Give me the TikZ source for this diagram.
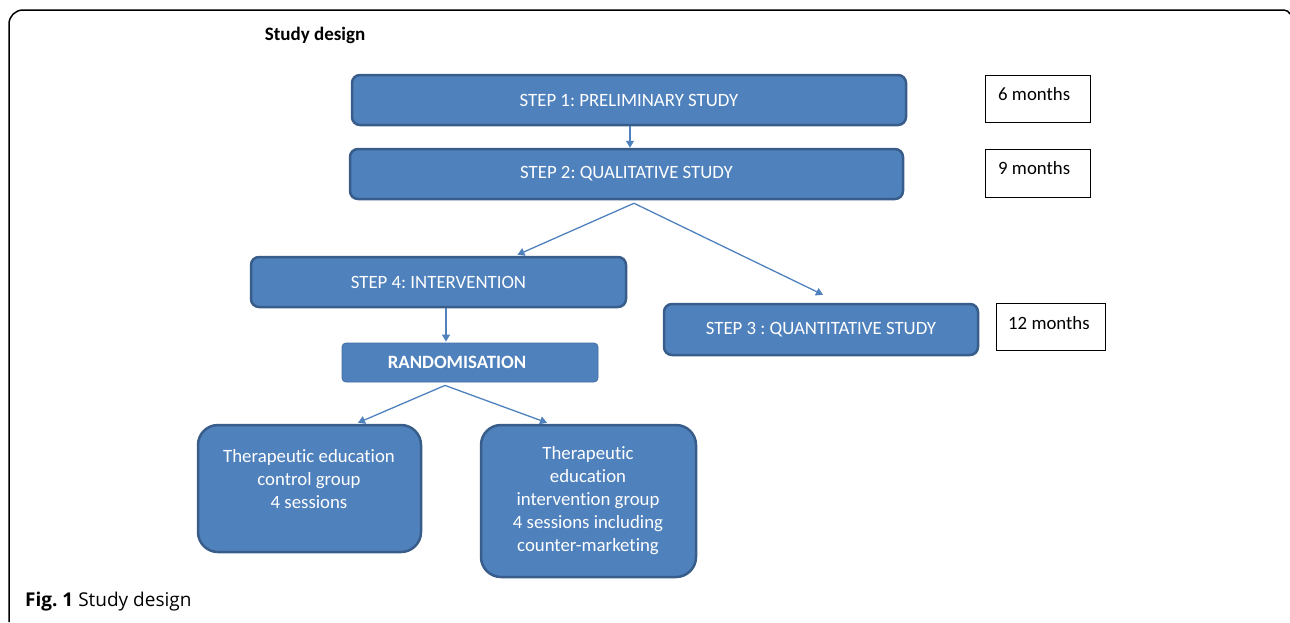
\documentclass[tikz,border=0pt]{standalone}
\usepackage{fontspec}
\setmainfont[Ligatures=NoCommon]{Carlito}
\newfontfamily\capfont{Open Sans}
\usetikzlibrary{arrows.meta}
\frenchspacing
\definecolor{boxfill}{RGB}{79,129,189}
\definecolor{boxedge}{RGB}{56,93,138}
\tikzset{
  bigfont/.style={font=\fontsize{18.8}{23}\selectfont},
  stepbox/.style={draw=boxedge, line width=2.5pt, fill=boxfill, rounded corners=8pt,
    text=white, bigfont, inner sep=0pt},
  randbox/.style={draw=boxfill!85!black, line width=0.8pt, fill=boxfill, rounded corners=4pt,
    inner sep=0pt},
  groupbox/.style={draw=boxedge, line width=2.5pt, fill=boxfill, rounded corners=20pt,
    inner sep=0pt},
  grouptext/.style={text=white, font=\fontsize{18.8}{23}\selectfont, inner sep=0pt, align=center},
  timebox/.style={draw=black, line width=1pt, fill=white, inner sep=0pt},
  timetext/.style={anchor=west, bigfont, inner sep=0pt},
  conn/.style={draw=boxfill, line width=1.3pt, -{Triangle[length=7pt,width=8pt]}},
}
\begin{document}
\begin{tikzpicture}[x=1pt,y=-1pt]
\useasboundingbox (0,0) rectangle (1290,622);
% outer frame
\draw[line width=1.5pt, rounded corners=14pt] (9,622) -- (9,10) -- (1284,10);
\draw[line width=1.5pt] (1284,10) .. controls (1287,10) and (1289,12) .. (1290,14);
% title
\node[font=\fontsize{19}{23}\selectfont\bfseries] (title) at (315,35) {Study design};
% step boxes
\node[stepbox, minimum width=554pt, minimum height=50pt] (s1) at (629,100) {STEP 1: PRELIMINARY STUDY};
\node[stepbox, minimum width=553pt, minimum height=50pt] (s2) at (626.5,174) {STEP 2: QUALITATIVE STUDY};
\node[stepbox, minimum width=375pt, minimum height=50pt] (s4) at (438.5,282) {STEP 4: INTERVENTION};
\node[stepbox, minimum width=314pt, minimum height=51pt] (s3) at (821,329.5) {STEP 3 : QUANTITATIVE STUDY};
\node[randbox, minimum width=256pt, minimum height=39pt] (rand) at (470,362.5) {};
\node[text=white, font=\fontsize{18.8}{23}\selectfont\bfseries, inner sep=0pt] (randt) at (457,362.5) {RANDOMISATION};
% time boxes
\node[timebox, minimum width=105pt, minimum height=47pt] (t1) at (1037.5,98.5) {};
\node[timetext] (t1t) at (998,94) {6 months};
\node[timebox, minimum width=105pt, minimum height=48pt] (t2) at (1037.5,173) {};
\node[timetext] (t2t) at (998,168) {9 months};
\node[timebox, minimum width=109pt, minimum height=47pt] (t3) at (1050.5,326.5) {};
\node[timetext] (t3t) at (1008,323) {12 months};
% group boxes
\node[groupbox, minimum width=223pt, minimum height=127pt] (ctrl) at (309.5,488.5) {};
\node[grouptext, anchor=north] (ctrlt) at (309,449) {Therapeutic education\\control group\\4 sessions};
\node[groupbox, minimum width=215pt, minimum height=152pt] (intv) at (588.5,501) {};
\node[grouptext, anchor=north] (intvt) at (588,446) {Therapeutic\\education\\intervention group\\4 sessions including\\counter-marketing};
% connectors
\coordinate (s2o) at ([xshift=7.5pt,yshift=-3pt]s2.south);
\coordinate (ro) at ([xshift=-25pt,yshift=-3pt]rand.south);
\draw[conn] ([xshift=1pt]s1.south) -- ([xshift=3.5pt]s2.north);
\draw[conn] (s2o) -- ([xshift=79pt,yshift=1pt]s4.north);
\draw[conn] (s2o) -- ([xshift=2pt,yshift=8pt]s3.north);
\draw[conn] ([xshift=7.5pt]s4.south) -- ([xshift=-24pt,yshift=1pt]rand.north);
\draw[conn] (ro) -- ([xshift=48.5pt,yshift=1pt]ctrl.north);
\draw[conn] (ro) -- ([xshift=-41.5pt,yshift=1pt]intv.north);
% caption
\node[anchor=west, font=\capfont\fontsize{19}{23}\selectfont, inner sep=0pt] (cap) at (25,602) {\textbf{Fig. 1} Study design};
\end{tikzpicture}
\end{document}
